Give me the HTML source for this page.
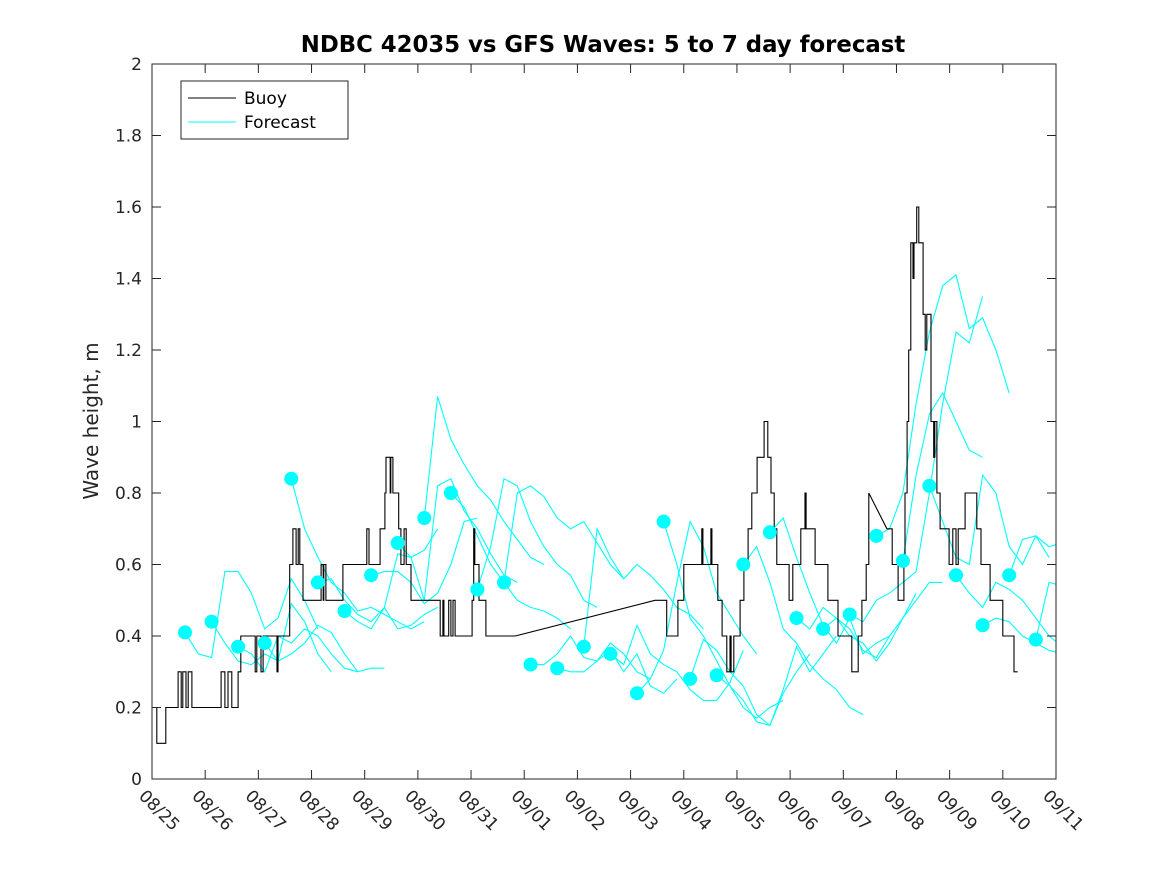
<!DOCTYPE html>
<html><head><meta charset="utf-8"><style>
body{margin:0;background:#fff;}
svg{display:block;font-family:"DejaVu Sans","Liberation Sans",sans-serif;}
</style></head><body>
<svg id="chart" width="1167" height="875" viewBox="0 0 1167 875">
<rect x="0" y="0" width="1167" height="875" fill="#fff"/>
<rect x="152" y="64" width="904" height="715" fill="#fff"/>
<defs><clipPath id="clip"><rect x="152" y="64" width="904" height="715"/></clipPath></defs>
<g id="series" clip-path="url(#clip)"></g>
<rect x="152" y="64" width="904" height="715" fill="none" stroke="#262626" stroke-width="1"/>
<g id="ticks"></g>
<text x="603" y="52" text-anchor="middle" font-size="22.8" font-weight="bold" fill="#000">NDBC 42035 vs GFS Waves: 5 to 7 day forecast</text>
<text transform="translate(98,421) rotate(-90)" text-anchor="middle" font-size="20" fill="#262626">Wave height, m</text>
<g>
<rect x="181" y="81" width="167" height="58" fill="#fff" stroke="#262626" stroke-width="1"/>
<line x1="188" y1="98" x2="236" y2="98" stroke="#000" stroke-width="1"/>
<text x="244" y="104" font-size="17" fill="#000">Buoy</text>
<line x1="188" y1="122" x2="236" y2="122" stroke="#00ffff" stroke-width="1"/>
<text x="244" y="128" font-size="17" fill="#000">Forecast</text>
</g>
</svg>
<script>
const xTickLabels=["08/25","08/26","08/27","08/28","08/29","08/30","08/31","09/01","09/02","09/03","09/04","09/05","09/06","09/07","09/08","09/09","09/10","09/11"];
const yTickValues=[0,0.2,0.4,0.6,0.8,1,1.2,1.4,1.6,1.8,2];
const buoyDays=[0,0.09,0.26,0.49,0.55,0.58,0.64,0.68,0.75,1.0,1.29,1.30,1.37,1.43,1.50,1.62,1.67,1.94,1.97,2.05,2.09,2.35,2.37,2.59,2.65,2.71,2.75,2.78,2.84,3.05,3.18,3.22,3.23,3.27,3.45,3.59,3.8,4.04,4.08,4.29,4.38,4.40,4.48,4.49,4.53,4.64,4.68,4.74,4.78,4.87,5.1,5.3,5.42,5.47,5.49,5.58,5.62,5.66,5.70,5.9,6.02,6.05,6.07,6.15,6.28,6.5,6.83,9.46,9.68,9.89,10.00,10.2,10.34,10.36,10.51,10.53,10.64,10.72,10.81,10.87,10.89,10.94,11.06,11.13,11.21,11.28,11.38,11.51,11.58,11.64,11.70,11.75,11.98,12.05,12.20,12.28,12.30,12.47,12.71,12.90,13.16,13.28,13.35,13.43,13.48,13.82,13.92,14.03,14.14,14.16,14.20,14.23,14.27,14.31,14.33,14.38,14.42,14.50,14.54,14.57,14.65,14.70,14.72,14.76,14.82,14.99,15.06,15.12,15.16,15.29,15.51,15.59,15.76,16.00,16.21,16.28];
const buoyHeights=[0.2,0.1,0.2,0.3,0.2,0.3,0.2,0.3,0.2,0.2,0.2,0.3,0.2,0.3,0.2,0.3,0.4,0.3,0.4,0.3,0.4,0.3,0.4,0.6,0.7,0.6,0.7,0.6,0.5,0.5,0.6,0.5,0.6,0.5,0.5,0.6,0.6,0.7,0.6,0.7,0.8,0.9,0.8,0.9,0.8,0.7,0.6,0.7,0.6,0.5,0.5,0.5,0.4,0.5,0.4,0.5,0.4,0.5,0.4,0.4,0.5,0.7,0.6,0.5,0.4,0.4,0.4,0.5,0.4,0.5,0.6,0.6,0.7,0.6,0.7,0.6,0.5,0.4,0.3,0.4,0.3,0.4,0.5,0.6,0.7,0.8,0.9,1.0,0.9,0.8,0.7,0.6,0.5,0.6,0.7,0.8,0.7,0.6,0.5,0.4,0.3,0.4,0.5,0.6,0.8,0.7,0.6,0.5,0.6,0.8,1.0,1.2,1.5,1.4,1.5,1.6,1.5,1.3,1.2,1.3,1.0,0.9,1.0,0.8,0.7,0.6,0.7,0.6,0.7,0.8,0.7,0.6,0.5,0.4,0.3,0.3];
const forecastStartDays=[0.62,1.12,1.62,2.12,2.62,3.12,3.62,4.12,4.62,5.12,5.62,6.12,6.62,7.12,7.62,8.12,8.62,9.12,9.62,10.12,10.62,11.12,11.62,12.12,12.62,13.12,13.62,14.12,14.62,15.12,15.62,16.12,16.62];
const forecastDots=[0.41,0.44,0.37,0.38,0.84,0.55,0.47,0.57,0.66,0.73,0.80,0.53,0.55,0.32,0.31,0.37,0.35,0.24,0.72,0.28,0.29,0.60,0.69,0.45,0.42,0.46,0.68,0.61,0.82,0.57,0.43,0.57,0.39];
const forecastTracks=[
[0.41,0.35,0.34,0.58,0.58,0.52,0.42,0.45,0.56,0.50,0.42],
[0.44,0.38,0.33,0.32,0.35,0.33,0.49,0.44,0.35,0.30],
[0.37,0.35,0.30,0.40,0.38,0.42,0.40,0.35,0.31,0.30],
[0.38,0.33,0.35,0.38,0.43,0.41,0.35,0.30,0.31,0.31],
[0.84,0.70,0.62,0.55,0.52,0.47,0.48,0.46,0.44,0.42,0.44],
[0.55,0.56,0.50,0.46,0.44,0.48,0.63,0.62,0.64,0.70],
[0.47,0.44,0.42,0.48,0.42,0.43,0.46,0.48],
[0.57,0.58,0.58,0.55,0.49,0.52,0.60,0.72,0.73],
[0.66,0.62,0.50,0.82,0.84,0.75,0.70,0.63,0.57,0.55],
[0.73,1.07,0.95,0.88,0.82,0.78,0.72,0.67,0.62,0.60],
[0.80,0.76,0.68,0.60,0.55,0.50,0.48,0.47,0.45,0.42],
[0.53,0.65,0.84,0.82,0.72,0.65,0.60,0.57,0.50,0.48],
[0.55,0.80,0.82,0.79,0.73,0.70,0.72,0.66,0.60,0.56],
[0.32,0.32,0.35,0.40,0.34,0.33,0.38,0.35,0.30,0.28],
[0.31,0.30,0.30,0.33,0.36,0.30,0.35,0.26,0.24,0.28],
[0.37,0.70,0.62,0.56,0.60,0.57,0.53,0.48,0.46,0.42],
[0.35,0.32,0.43,0.35,0.32,0.30,0.25,0.22,0.22,0.27,0.36],
[0.24,0.28,0.36,0.55,0.72,0.65,0.52,0.46,0.40,0.35],
[0.72,0.60,0.45,0.40,0.33,0.26,0.20,0.17,0.20,0.22],
[0.28,0.39,0.36,0.30,0.26,0.18,0.15,0.24,0.30,0.35],
[0.29,0.26,0.22,0.16,0.15,0.25,0.37,0.30,0.35,0.40],
[0.60,0.65,0.55,0.42,0.38,0.32,0.28,0.25,0.20,0.18],
[0.69,0.73,0.62,0.52,0.43,0.38,0.45,0.35,0.38,0.40],
[0.45,0.42,0.48,0.45,0.40,0.38,0.33,0.38,0.45,0.52],
[0.42,0.45,0.42,0.36,0.34,0.40,0.45,0.50,0.55,0.55],
[0.46,0.44,0.50,0.52,0.55,0.58,0.80,1.05,1.25,1.22,1.35],
[0.68,0.70,0.80,1.05,1.25,1.38,1.41,1.26,1.29,1.20,1.08],
[0.61,0.85,1.02,1.08,1.00,0.92,0.90],
[0.82,0.72,0.62,0.60,0.85,0.80,0.65,0.60,0.68,0.62],
[0.57,0.52,0.48,0.55,0.53,0.50,0.45,0.40,0.37,0.36],
[0.43,0.45,0.44,0.40,0.38,0.36,0.35,0.38,0.45,0.55,0.50],
[0.57,0.67,0.68,0.65,0.66,0.70,0.78,0.77],
[0.39,0.55,0.54,0.46]
];
const trackStep=0.25;
const NS="http://www.w3.org/2000/svg";
const X0=152,X1=1056,Y0=779,Y1=64,DAYS=17,YMAX=2;
function xs(d){return X0+(X1-X0)*d/DAYS;}
function ys(v){return Y0-(Y0-Y1)*v/YMAX;}
function mk(tag,attrs){const e=document.createElementNS(NS,tag);for(const k in attrs)e.setAttribute(k,attrs[k]);return e;}
const ticks=document.getElementById('ticks');
xTickLabels.forEach((lab,i)=>{
  const x=xs(i);
  const t1=mk('line',{x1:x,y1:Y0,x2:x,y2:Y0-9,stroke:'#262626'});
  
  
  ticks.appendChild(t1);
  const t2=mk('line',{x1:x,y1:Y1,x2:x,y2:Y1+9,stroke:'#262626'});
  
  
  ticks.appendChild(t2);
  const tx=mk('text',{transform:`translate(${x-14},${Y0+18}) rotate(45)`,'font-size':'17',fill:'#262626'});
  tx.textContent=lab;
  
  
  ticks.appendChild(tx);
});
yTickValues.forEach(v=>{
  const y=ys(v);
  const t1=mk('line',{x1:X0,y1:y,x2:X0+9,y2:y,stroke:'#262626'});
  
  
  ticks.appendChild(t1);
  const t2=mk('line',{x1:X1,y1:y,x2:X1-9,y2:y,stroke:'#262626'});
  
  
  ticks.appendChild(t2);
  const tx=mk('text',{x:X0-10,y:y+6,'text-anchor':'end','font-size':'17',fill:'#262626'});
  tx.textContent=String(v);
  
  
  ticks.appendChild(tx);
});
const series=document.getElementById('series');
forecastTracks.forEach((tr,i)=>{
  const pts=tr.map((v,j)=>xs(forecastStartDays[i]+j*trackStep).toFixed(1)+','+ys(v).toFixed(1)).join(' ');
  const pl=mk('polyline',{points:pts,fill:'none',stroke:'#00ffff','stroke-width':'1.1'});
  
  
  series.appendChild(pl);
});
let d='M'+xs(buoyDays[0]).toFixed(1)+','+ys(buoyHeights[0]).toFixed(1);
for(let i=1;i<buoyDays.length;i++){
  const x=xs(buoyDays[i]).toFixed(1),y=ys(buoyHeights[i]).toFixed(1);
  if(buoyDays[i]-buoyDays[i-1]>0.3){d+=' L'+x+','+y;}
  else{d+=' L'+x+','+ys(buoyHeights[i-1]).toFixed(1)+' L'+x+','+y;}
}
const bp=mk('path',{d:d,fill:'none',stroke:'#000','stroke-width':'1.1'});


series.appendChild(bp);
forecastDots.forEach((v,i)=>{
  const c=mk('circle',{cx:xs(forecastStartDays[i]).toFixed(1),cy:ys(v).toFixed(1),r:7,fill:'#00ffff'});
  
  
  series.appendChild(c);
});
</script>
</body></html>
